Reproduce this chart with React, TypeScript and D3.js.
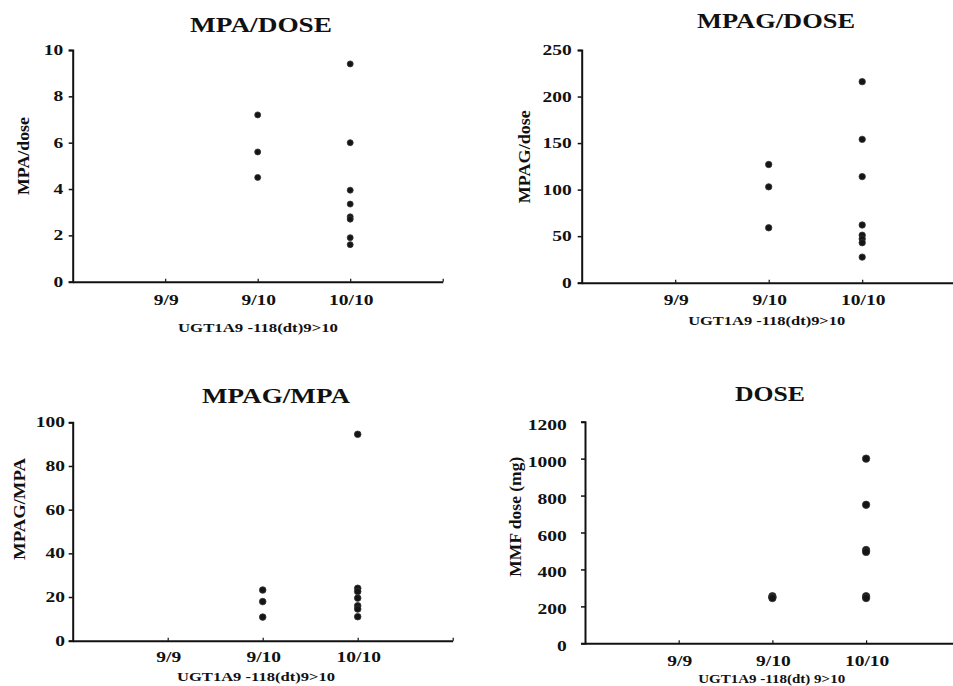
import React, { useEffect, useRef } from 'react';
import * as d3 from 'd3';

// genotype groups on the x axis
const categories = ['9/9', '9/10', '10/10'];

// MPA/DOSE
const mpaDose910 = [7.2, 5.6, 4.5];
const mpaDose1010 = [9.4, 6.0, 3.95, 3.35, 2.8, 2.7, 1.9, 1.6];
const mpaDoseTicks = [0, 2, 4, 6, 8, 10];

// MPAG/DOSE
const mpagDose910 = [127, 103, 59];
const mpagDose1010 = [216, 154, 114, 62, 51, 47, 43, 27.5];
const mpagDoseTicks = [0, 50, 100, 150, 200, 250];

// MPAG/MPA
const mpagMpa910 = [23.2, 17.9, 10.8];
const mpagMpa1010 = [94.5, 24, 22.5, 19.5, 16, 14.5, 11];
const mpagMpaTicks = [0, 20, 40, 60, 80, 100];

// DOSE (mg)
const dose910 = [255, 250, 245];
const dose1010 = [1000, 750, 505, 495, 255, 245];
const doseTicks = [0, 200, 400, 600, 800, 1000, 1200];

const panels = [
  {
    title: 'MPA/DOSE', yTitle: 'MPA/dose', xTitle: 'UGT1A9 -118(dt)9>10',
    groups: [[], mpaDose910, mpaDose1010], ticks: mpaDoseTicks,
    x0: 72.7, slot: 92.5, yTop: 50, yBot: 281.7, r: 3,
    tx: 261, ty: 32, tLen: 142,
    ycx: 23, ycy: 156, yLen: 78,
    xTickY: 305, xtx: 258, xty: 331.7, xLen: 160, labRight: 63.3, labDy: 0,
  },
  {
    title: 'MPAG/DOSE', yTitle: 'MPAG/dose', xTitle: 'UGT1A9 -118(dt)9>10',
    groups: [[], mpagDose910, mpagDose1010], ticks: mpagDoseTicks,
    x0: 581.7, slot: 93.5, yTop: 50, yBot: 282.7, r: 3.2,
    tx: 776, ty: 28.3, tLen: 158,
    ycx: 524, ycy: 156.7, yLen: 93,
    xTickY: 305, xtx: 766.7, xty: 325, xLen: 157, labRight: 571.7, labDy: 0,
  },
  {
    title: 'MPAG/MPA', yTitle: 'MPAG/MPA', xTitle: 'UGT1A9 -118(dt)9>10',
    groups: [[], mpagMpa910, mpagMpa1010], ticks: mpagMpaTicks,
    x0: 72.7, slot: 95, yTop: 422.3, yBot: 640.7, r: 3.3,
    tx: 276, ty: 403.3, tLen: 148,
    ycx: 19, ycy: 509, yLen: 102,
    xTickY: 661.7, xtx: 256, xty: 680.7, xLen: 158, labRight: 65, labDy: 0,
  },
  {
    title: 'DOSE', yTitle: 'MMF dose (mg)', xTitle: 'UGT1A9 -118(dt) 9>10',
    groups: [[], dose910, dose1010], ticks: doseTicks,
    x0: 585, slot: 93.7, yTop: 421.7, yBot: 643.3, r: 3.7,
    tx: 770, ty: 400.7, tLen: 70,
    ycx: 514.5, ycy: 516.7, yLen: 120,
    xTickY: 666, xtx: 771.7, xty: 683.3, xLen: 147, labRight: 566.7, labDy: 3,
  },
];

const FONT = '"Liberation Serif", "DejaVu Serif", serif';

const App = () => {
  const svgRef = useRef<SVGSVGElement>(null);

  useEffect(() => {
    const svg = d3.select(svgRef.current);
    svg.selectAll('*').remove();
    svg.attr('width', 953).attr('height', 686);

    svg.append('rect').attr('width', 953).attr('height', 686).attr('fill', '#fff');

    const label = (g, x, y, txt, size, anchor, sx = 1.3) =>
      g
        .append('text')
        .attr('transform', `translate(${x},${y}) scale(${sx},1)`)
        .attr('text-anchor', anchor)
        .attr('font-family', FONT)
        .attr('font-weight', 'bold')
        .attr('font-size', size)
        .attr('fill', '#111')
        .text(txt);

    panels.forEach((p) => {
      const g = svg.append('g');
      const x = d3.scaleLinear().domain([0, 4]).range([p.x0, p.x0 + 4 * p.slot]);
      const yMax = p.ticks[p.ticks.length - 1];
      const y = d3.scaleLinear().domain([0, yMax]).range([p.yBot, p.yTop]);

      // y axis
      const ya = g
        .append('g')
        .attr('transform', `translate(${p.x0},0)`)
        .call(d3.axisLeft(y).tickValues(p.ticks).tickSize(4).tickFormat(() => ''));
      ya.select('.domain').attr('stroke', '#111').attr('stroke-width', 2);
      ya.selectAll('.tick line').attr('stroke', '#111').attr('stroke-width', 1.5);

      // x axis
      const xa = g
        .append('g')
        .attr('transform', `translate(0,${p.yBot})`)
        .call(
          d3.axisBottom(x).tickValues([1, 2, 3, 4]).tickSizeInner(-3).tickSizeOuter(0).tickFormat(() => '')
        );
      xa.select('.domain').attr('stroke', '#111').attr('stroke-width', 2);
      xa.selectAll('.tick line').attr('stroke', '#111').attr('stroke-width', 1.2);

      // y tick labels
      p.ticks.forEach((t) => {
        label(g, p.labRight, y(t) + 5 + p.labDy, String(t), 15, 'end');
      });

      // x tick labels
      categories.forEach((c, i) => {
        label(g, x(i + 1) + 1, p.xTickY, c, 15, 'middle');
      });

      // titles
      g.append('text')
        .attr('x', p.tx)
        .attr('y', p.ty)
        .attr('text-anchor', 'middle')
        .attr('font-family', FONT)
        .attr('font-weight', 'bold')
        .attr('font-size', 22)
        .attr('textLength', p.tLen)
        .attr('lengthAdjust', 'spacingAndGlyphs')
        .attr('fill', '#111')
        .text(p.title);

      g.append('text')
        .attr('x', p.xtx)
        .attr('y', p.xty)
        .attr('text-anchor', 'middle')
        .attr('font-family', FONT)
        .attr('font-weight', 'bold')
        .attr('font-size', 13)
        .attr('textLength', p.xLen)
        .attr('lengthAdjust', 'spacingAndGlyphs')
        .attr('fill', '#111')
        .text(p.xTitle);

      g.append('text')
        .attr('transform', `translate(${p.ycx + 6},${p.ycy}) rotate(-90)`)
        .attr('text-anchor', 'middle')
        .attr('font-family', FONT)
        .attr('font-weight', 'bold')
        .attr('font-size', 17)
        .attr('textLength', p.yLen)
        .attr('lengthAdjust', 'spacingAndGlyphs')
        .attr('fill', '#111')
        .text(p.yTitle);

      // points
      p.groups.forEach((vals, i) => {
        g.selectAll(null)
          .data(vals)
          .enter()
          .append('path')
          .attr('d', d3.symbol().type(d3.symbolCircle).size(Math.PI * p.r * p.r)())
          .attr('transform', (d) => `translate(${x(i + 1)},${y(d)})`)
          .attr('fill', '#151515')
          .attr('stroke', '#333')
          .attr('stroke-width', 0.8);
      });
    });
  }, []);

  return <svg ref={svgRef} style={{ position: 'absolute', left: 0, top: 0 }}></svg>;
};

export default App;
